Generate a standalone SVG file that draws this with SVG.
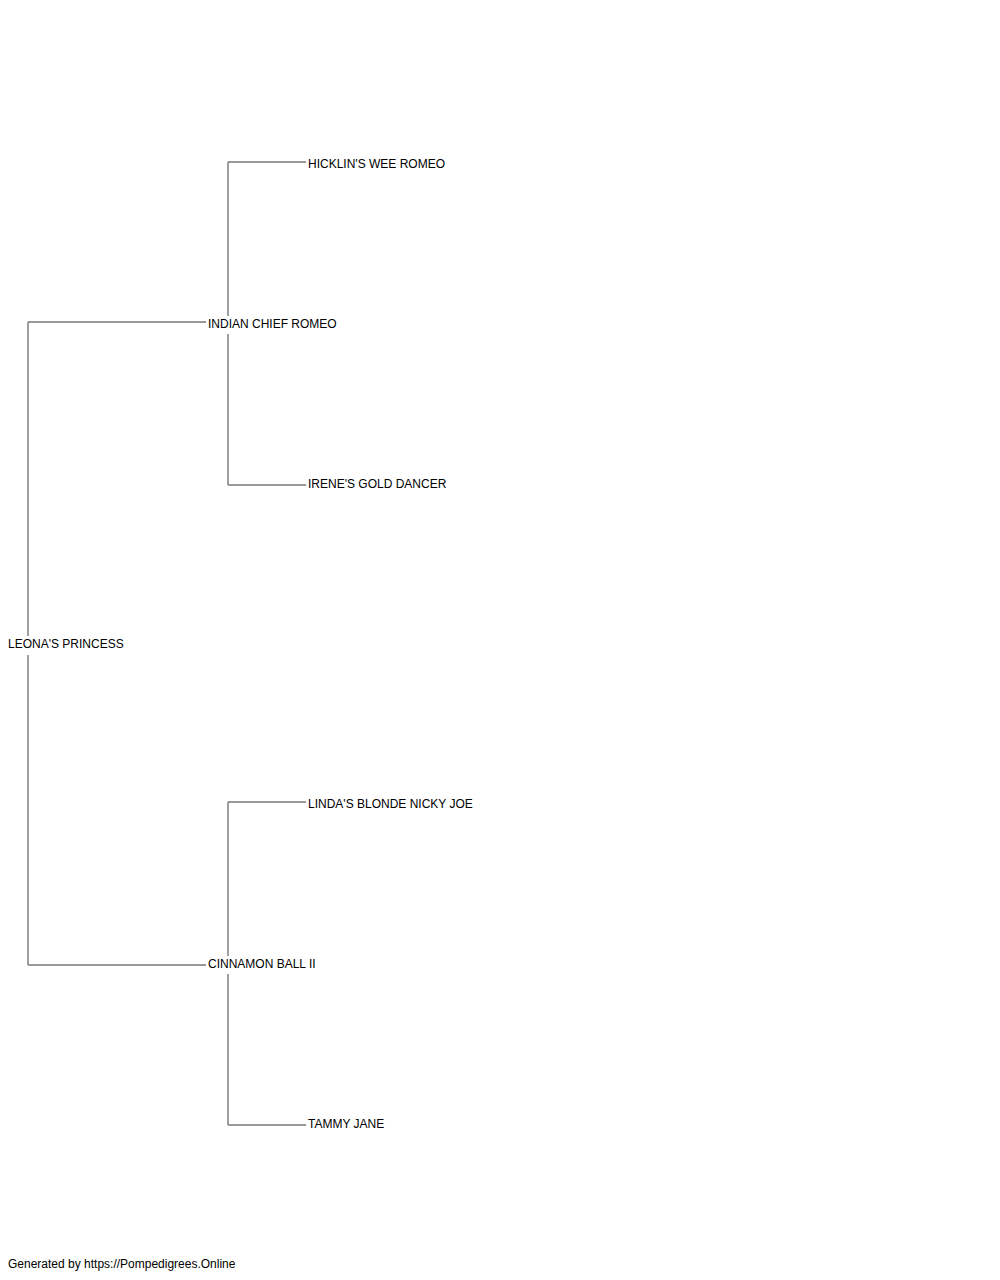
<svg xmlns="http://www.w3.org/2000/svg" width="1000" height="1280" viewBox="0 0 1000 1280">
<style>
text{font-family:"Liberation Sans",Arial,sans-serif;font-size:12px;fill:#000}
.c line{stroke:#777;stroke-width:1.4;fill:none}
</style>
<rect width="1000" height="1280" fill="#fff"/>
<g class="c" id="connectors">
<line x1="28" y1="322" x2="28" y2="636"/>
<line x1="28" y1="655" x2="28" y2="965"/>
<line x1="28" y1="322" x2="206" y2="322"/>
<line x1="28" y1="965" x2="206" y2="965"/>
<line x1="228" y1="162" x2="228" y2="316"/>
<line x1="228" y1="334" x2="228" y2="485"/>
<line x1="228" y1="162" x2="306" y2="162"/>
<line x1="228" y1="485" x2="306" y2="485"/>
<line x1="228" y1="802" x2="228" y2="956"/>
<line x1="228" y1="974" x2="228" y2="1125"/>
<line x1="228" y1="802" x2="306" y2="802"/>
<line x1="228" y1="1125" x2="306" y2="1125"/>
</g>
<g id="n-root"><text x="8" y="648">LEONA'S PRINCESS</text></g>
<g id="n-sire"><text x="208" y="328">INDIAN CHIEF ROMEO</text></g>
<g id="n-dam"><text x="208" y="968">CINNAMON BALL II</text></g>
<g id="n-ss"><text x="308" y="168">HICKLIN'S WEE ROMEO</text></g>
<g id="n-sd"><text x="308" y="488">IRENE'S GOLD DANCER</text></g>
<g id="n-ds"><text x="308" y="808">LINDA'S BLONDE NICKY JOE</text></g>
<g id="n-dd"><text x="308" y="1128">TAMMY JANE</text></g>
<g id="footer"><text x="8" y="1268">Generated by https://Pompedigrees.Online</text></g>
</svg>
